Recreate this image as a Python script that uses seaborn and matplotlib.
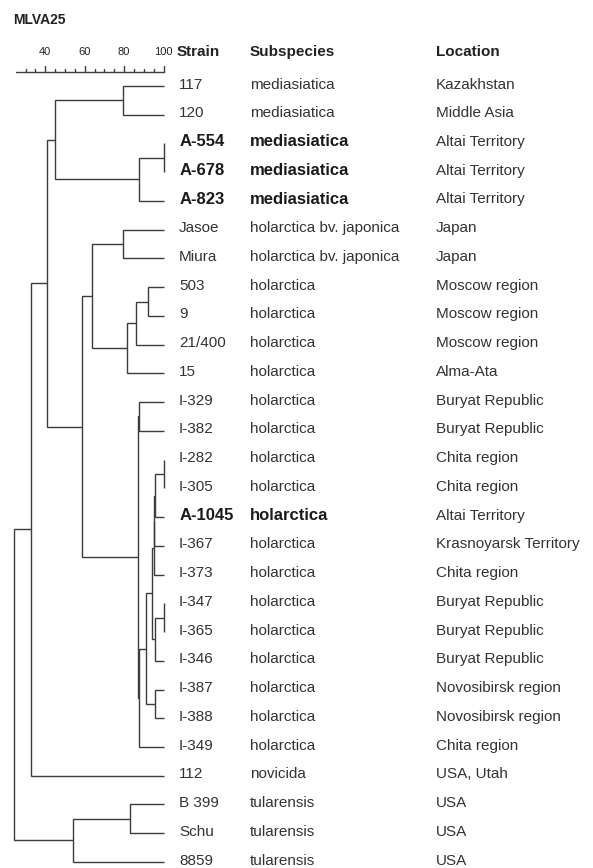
import numpy as np
import pandas as pd
import seaborn as sns
import matplotlib
matplotlib.use("Agg")
import matplotlib.pyplot as plt

# leaf table (top to bottom)
strains = ["117", "120", "A-554", "A-678", "A-823", "Jasoe", "Miura", "503", "9",
           "21/400", "15", "I-329", "I-382", "I-282", "I-305", "A-1045", "I-367",
           "I-373", "I-347", "I-365", "I-346", "I-387", "I-388", "I-349", "112",
           "B 399", "Schu", "8859"]
subspecies = ["mediasiatica", "mediasiatica", "mediasiatica", "mediasiatica",
              "mediasiatica", "holarctica bv. japonica", "holarctica bv. japonica",
              "holarctica", "holarctica", "holarctica", "holarctica", "holarctica",
              "holarctica", "holarctica", "holarctica", "holarctica", "holarctica",
              "holarctica", "holarctica", "holarctica", "holarctica", "holarctica",
              "holarctica", "holarctica", "novicida", "tularensis", "tularensis",
              "tularensis"]
locations = ["Kazakhstan", "Middle Asia", "Altai Territory", "Altai Territory",
             "Altai Territory", "Japan", "Japan", "Moscow region", "Moscow region",
             "Moscow region", "Alma-Ata", "Buryat Republic", "Buryat Republic",
             "Chita region", "Chita region", "Altai Territory", "Krasnoyarsk Territory",
             "Chita region", "Buryat Republic", "Buryat Republic", "Buryat Republic",
             "Novosibirsk region", "Novosibirsk region", "Chita region", "USA, Utah",
             "USA", "USA", "USA"]
highlighted = ["A-554", "A-678", "A-823", "A-1045"]

# clustering: (left, right, similarity %) ; node i is called "n{i}"
merges = [
    ("117", "120", 79.4),        # n0
    ("A-554", "A-678", 100.0),   # n1
    ("n1", "A-823", 87.6),       # n2
    ("n0", "n2", 44.9),          # n3
    ("Jasoe", "Miura", 79.4),    # n4
    ("503", "9", 92.1),          # n5
    ("n5", "21/400", 86.0),      # n6
    ("n6", "15", 81.5),          # n7
    ("n4", "n7", 63.7),          # n8
    ("I-329", "I-382", 87.8),    # n9
    ("I-282", "I-305", 100.0),   # n10
    ("n10", "A-1045", 95.5),     # n11
    ("n11", "I-367", 95.4),      # n12
    ("n12", "I-373", 95.3),      # n13
    ("I-347", "I-365", 100.0),   # n14
    ("n14", "I-346", 95.5),      # n15
    ("n13", "n15", 93.9),        # n16
    ("I-387", "I-388", 95.5),    # n17
    ("n16", "n17", 91.0),        # n18
    ("n18", "I-349", 87.4),      # n19
    ("n9", "n19", 87.2),         # n20
    ("n8", "n20", 58.6),         # n21
    ("n3", "n21", 40.9),         # n22
    ("n22", "112", 32.7),        # n23
    ("B 399", "Schu", 83.0),     # n24
    ("n24", "8859", 54.1),       # n25
    ("n23", "n25", 24.3),        # n26
]

scale_major = [40, 60, 80, 100]
scale_minor = [30, 35, 45, 50, 55, 65, 70, 75, 85, 90, 95]

sns.set_theme(style="white")
plt.rcParams["font.family"] = ["Liberation Sans", "DejaVu Sans"]

fig = plt.figure(figsize=(5.93, 8.68), dpi=100)
ax = fig.add_axes([0, 0, 1, 1])
ax.set_xlim(17.0, 318.0)
ax.set_ylim(27.21, -2.99)
ax.axis("off")

line_col = "#3c3c3c"
lw = 1.0

# dendrogram: x = similarity, y = row of leaf / mean of children
pos = {s: (100.0, i) for i, s in enumerate(strains)}
for k, (a, b, sim) in enumerate(merges):
    xa, ya = pos[a]
    xb, yb = pos[b]
    ax.plot([xa, sim, sim, xb], [ya, ya, yb, yb], color=line_col, lw=lw,
            solid_joinstyle="miter", solid_capstyle="butt")
    pos["n%d" % k] = (sim, (ya + yb) / 2)

# scale bar
bar_y = -0.49
ax.plot([25, 100], [bar_y, bar_y], color=line_col, lw=lw)
for t in scale_major:
    ax.plot([t, t], [bar_y, bar_y - 0.19], color=line_col, lw=lw)
    ax.text(t, -1.17, str(t), ha="center", va="center", fontsize=8, color="#222222")
for t in scale_minor:
    ax.plot([t, t], [bar_y, bar_y - 0.1], color=line_col, lw=lw)

tr = ax.get_yaxis_transform()
ax.text(0.022, -2.28, "MLVA25", transform=tr, ha="left", va="center",
        fontsize=10, fontweight="bold", color="#222222")

# headers
col_x = [0.302, 0.4216, 0.735]
for x, h in zip([0.298, 0.4216, 0.735], ["Strain", "Subspecies", "Location"]):
    ax.text(x, -1.18, h, transform=tr, ha="left", va="center", fontsize=11,
            fontweight="bold", color="#222222")

table = pd.DataFrame({"strain": strains, "sub": subspecies, "loc": locations})
for i, row in table.iterrows():
    bold = row["strain"] in highlighted
    kw = dict(fontsize=12, fontweight="bold", color="#1a1a1a") if bold else \
        dict(fontsize=11, color="#333333")
    ax.text(col_x[0], i - 0.05, row["strain"], transform=tr, ha="left", va="center", **kw)
    ax.text(col_x[1], i - 0.05, row["sub"], transform=tr, ha="left", va="center", **kw)
    ax.text(col_x[2], i - 0.05, row["loc"], transform=tr, ha="left", va="center",
            fontsize=11, color="#333333")

fig.savefig("out.png", dpi=100)
